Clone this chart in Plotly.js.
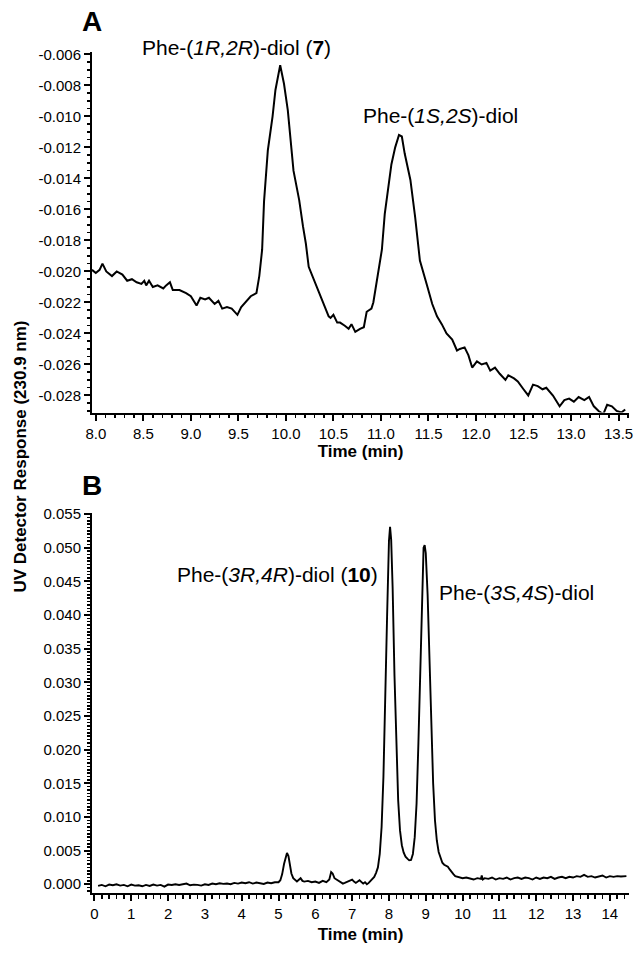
<!DOCTYPE html>
<html>
<head>
<meta charset="utf-8">
<script src="https://cdn.plot.ly/plotly-3.0.1.min.js"></script>
<style>html,body{margin:0;padding:0;background:#fff;}#chart{width:643px;height:958px;}</style>
</head>
<body>
<div id="chart"></div>
<script>
// ---------- Panel A data ----------
const timeA = [7.96, 8.00, 8.04, 8.07, 8.11, 8.17, 8.22, 8.28, 8.33, 8.38, 8.43, 8.48, 8.51, 8.53, 8.56, 8.60, 8.65, 8.71, 8.74, 8.78,
  8.81, 8.88, 8.95, 9.00, 9.06, 9.10, 9.15, 9.19, 9.25, 9.29, 9.33, 9.38, 9.43, 9.49, 9.53, 9.60, 9.63, 9.69, 9.72, 9.75,
  9.77, 9.81, 9.86, 9.89, 9.94, 9.98, 10.02, 10.08, 10.14, 10.18, 10.21, 10.24, 10.28, 10.33, 10.39, 10.45, 10.47, 10.50, 10.54, 10.57,
  10.62, 10.66, 10.69, 10.73, 10.78, 10.82, 10.85, 10.90, 10.92, 10.95, 10.99, 11.01, 11.04, 11.07, 11.11, 11.15, 11.19, 11.22, 11.25, 11.31,
  11.36, 11.41, 11.45, 11.48, 11.54, 11.59, 11.64, 11.69, 11.75, 11.80, 11.83, 11.88, 11.92, 11.96, 12.01, 12.06, 12.11, 12.15, 12.20, 12.25,
  12.31, 12.34, 12.40, 12.44, 12.50, 12.55, 12.60, 12.65, 12.70, 12.74, 12.81, 12.88, 12.93, 12.98, 13.03, 13.08, 13.14, 13.19, 13.24, 13.29,
  13.34, 13.38, 13.43, 13.48, 13.53, 13.57];
const respA = [-0.0199, -0.0201, -0.0199, -0.0195, -0.0200, -0.0203, -0.0200, -0.0202, -0.0206, -0.0205, -0.0207, -0.0208, -0.0206, -0.0209, -0.0206, -0.0210, -0.0209, -0.0211, -0.0209, -0.0207,
  -0.0212, -0.0212, -0.0214, -0.0216, -0.0222, -0.0217, -0.0218, -0.0217, -0.0221, -0.0219, -0.0224, -0.0223, -0.0224, -0.0228, -0.0223, -0.0218, -0.0216, -0.0214, -0.0203, -0.0186,
  -0.0155, -0.0122, -0.0100, -0.0083, -0.0067, -0.0079, -0.0096, -0.0135, -0.0154, -0.0171, -0.0182, -0.0197, -0.0203, -0.0210, -0.0219, -0.0229, -0.0230, -0.0228, -0.0233, -0.0233,
  -0.0235, -0.0237, -0.0234, -0.0239, -0.0237, -0.0236, -0.0226, -0.0224, -0.0220, -0.0208, -0.0193, -0.0186, -0.0163, -0.0150, -0.0131, -0.0120, -0.0112, -0.0113, -0.0124, -0.0141,
  -0.0165, -0.0193, -0.0201, -0.0208, -0.0221, -0.0229, -0.0234, -0.0240, -0.0244, -0.0251, -0.0250, -0.0249, -0.0254, -0.0262, -0.0258, -0.0260, -0.0259, -0.0264, -0.0262, -0.0266,
  -0.0270, -0.0267, -0.0269, -0.0271, -0.0276, -0.0280, -0.0273, -0.0274, -0.0276, -0.0275, -0.0280, -0.0287, -0.0283, -0.0282, -0.0284, -0.0281, -0.0283, -0.0281, -0.0287, -0.0290,
  -0.0292, -0.0286, -0.0287, -0.0290, -0.0291, -0.0289];

// ---------- Panel B data ----------
const timeB = [0.1, 0.2, 0.3, 0.4, 0.5, 0.6, 0.7, 0.8, 0.9, 1.0, 1.1, 1.2, 1.3, 1.4, 1.5, 1.6, 1.7, 1.8, 1.9, 2.0,
  2.1, 2.2, 2.3, 2.4, 2.5, 2.6, 2.7, 2.8, 2.9, 3.0, 3.1, 3.2, 3.3, 3.4, 3.5, 3.6, 3.7, 3.8, 3.9, 4.0,
  4.1, 4.2, 4.3, 4.4, 4.5, 4.6, 4.7, 4.8, 4.9, 5.0, 5.05, 5.1, 5.15, 5.2, 5.23, 5.27, 5.3, 5.35, 5.4, 5.45,
  5.5, 5.6, 5.65, 5.7, 5.8, 5.9, 6.0, 6.1, 6.2, 6.3, 6.38, 6.43, 6.47, 6.52, 6.6, 6.7, 6.75, 6.8, 6.9, 7.0,
  7.05, 7.1, 7.2, 7.3, 7.35, 7.4, 7.45, 7.5, 7.55, 7.6, 7.65, 7.7, 7.75, 7.8, 7.85, 7.9, 7.95, 8.0, 8.03, 8.06,
  8.1, 8.15, 8.2, 8.25, 8.3, 8.35, 8.4, 8.45, 8.5, 8.55, 8.6, 8.65, 8.7, 8.75, 8.8, 8.85, 8.9, 8.94, 8.97, 9.0,
  9.05, 9.1, 9.15, 9.2, 9.25, 9.3, 9.35, 9.4, 9.45, 9.5, 9.55, 9.6, 9.65, 9.7, 9.75, 9.8, 9.9, 10.0, 10.1, 10.2,
  10.3, 10.4, 10.5, 10.52, 10.55, 10.6, 10.7, 10.8, 10.9, 11.0, 11.1, 11.2, 11.3, 11.4, 11.5, 11.6, 11.7, 11.8, 11.9, 12.0,
  12.1, 12.2, 12.3, 12.4, 12.5, 12.6, 12.7, 12.8, 12.9, 13.0, 13.1, 13.2, 13.3, 13.4, 13.5, 13.6, 13.7, 13.8, 13.9, 14.0,
  14.1, 14.2, 14.3, 14.45];
const respB = [-0.00025, -0.0001, -0.0003, -0.00005, -0.00015, 0.0, -0.0002, -0.0001, -0.0003, -0.00005, -0.0002, -0.00015, -0.0003, -0.0001, -0.00025, -0.00005, -0.0002, -0.0001, -0.00035, -0.00005,
  -0.0001, 0.0, -0.0001, 0.00005, 0.0001, -0.00015, -0.00005, -0.0001, -0.0002, 0.0, -0.0001, 0.0001, 0.0, 0.00015, 0.00005, 0.0001, 0.0, 0.0002, 0.0001, 0.00025,
  0.00015, 0.0003, 0.0001, 0.00025, 0.0002, 0.00005, 0.00025, 0.00015, 0.0003, 0.0003, 0.0006, 0.0015, 0.0030, 0.0043, 0.00465, 0.0042, 0.0030, 0.0016, 0.0009, 0.0006,
  0.0004, 0.0009, 0.0005, 0.0004, 0.0005, 0.0003, 0.0004, 0.0002, 0.0005, 0.0003, 0.0007, 0.0018, 0.0016, 0.0009, 0.0006, 0.0003, 0.0001, 0.0002, 0.0005, 0.0007,
  0.0004, 0.0002, 0.0006, 0.0001, 0.0003, 0.0, 0.0002, 0.0005, 0.0008, 0.0011, 0.0017, 0.0025, 0.0045, 0.0085, 0.0160, 0.0260, 0.0400, 0.0510, 0.0531, 0.0512,
  0.0440, 0.0310, 0.0200, 0.0125, 0.0080, 0.0058, 0.0047, 0.0041, 0.0038, 0.00355, 0.0036, 0.0045, 0.0070, 0.0120, 0.0210, 0.0330, 0.0450, 0.0500, 0.0504, 0.0492,
  0.0430, 0.0330, 0.0230, 0.0150, 0.0095, 0.0065, 0.0048, 0.0038, 0.0032, 0.0029, 0.0028, 0.0026, 0.0022, 0.0018, 0.0015, 0.0012, 0.0010, 0.0009, 0.0010, 0.0008,
  0.0007, 0.0009, 0.0008, 0.0013, 0.0007, 0.0009, 0.0008, 0.0010, 0.0007, 0.0009, 0.0008, 0.0010, 0.0007, 0.0009, 0.0010, 0.0008, 0.0010, 0.0009, 0.0007, 0.0010,
  0.0008, 0.0010, 0.0009, 0.0011, 0.0008, 0.0010, 0.0011, 0.0009, 0.0011, 0.0010, 0.0012, 0.0011, 0.0014, 0.0011, 0.0012, 0.0010, 0.0011, 0.0013, 0.0010, 0.0012,
  0.0011, 0.0012, 0.00115, 0.0012];

// ---------- Tick labels ----------
const xTicksA = ['8.0','8.5','9.0','9.5','10.0','10.5','11.0','11.5','12.0','12.5','13.0','13.5'];
const yTicksA = ['-0.006','-0.008','-0.010','-0.012','-0.014','-0.016','-0.018','-0.020','-0.022','-0.024','-0.026','-0.028'];
const xTicksB = ['0','1','2','3','4','5','6','7','8','9','10','11','12','13','14'];
const yTicksB = ['0.055','0.050','0.045','0.040','0.035','0.030','0.025','0.020','0.015','0.010','0.005','0.000'];

const FONT = 'Liberation Sans, Arial, Helvetica, sans-serif';
const tickFont = {family: FONT, size: 15, color: '#000'};

function axisBase(labels, minorDtick, minorTick0) {
  return {
    showline: true, linewidth: 2, linecolor: '#000',
    ticks: 'outside', ticklen: 6, tickwidth: 2, tickcolor: '#000',
    tickmode: 'array', tickvals: labels.map(Number), ticktext: labels,
    tickfont: tickFont, showgrid: false, zeroline: false,
    minor: {dtick: minorDtick, tick0: minorTick0, ticks: 'outside', ticklen: 3.5, tickwidth: 1.5, tickcolor: '#000', showgrid: false}
  };
}

const traces = [
  {x: timeA, y: respA, xaxis: 'x', yaxis: 'y', mode: 'lines', line: {color: '#000', width: 2}, hoverinfo: 'skip'},
  {x: timeB, y: respB, xaxis: 'x2', yaxis: 'y2', mode: 'lines', line: {color: '#000', width: 1.9}, hoverinfo: 'skip'}
];

const titleFont = {family: FONT, size: 17, color: '#000'};
const annFont = {family: FONT, size: 21, color: '#000'};

const layout = {
  width: 643, height: 958,
  margin: {l: 92, r: 14, t: 52, b: 65},
  paper_bgcolor: '#fff', plot_bgcolor: '#fff',
  showlegend: false,
  xaxis: Object.assign(axisBase(xTicksA, 0.1, 8), {domain: [0, 1], anchor: 'y', range: [7.96, 13.61],
    title: {text: '<b>Time (min)</b>', font: titleFont, standoff: 4}}),
  yaxis: Object.assign(axisBase(yTicksA, 0.0005, 0), {domain: [0.5713, 1], anchor: 'x', range: [-0.0291, -0.00585]}),
  xaxis2: Object.assign(axisBase(xTicksB, 0.2, 0), {domain: [0, 1], anchor: 'y2', range: [-0.066, 14.52],
    title: {text: '<b>Time (min)</b>', font: titleFont, standoff: 7}}),
  yaxis2: Object.assign(axisBase(yTicksB, 0.0005, 0), {domain: [0, 0.4522], anchor: 'x2', range: [-0.0013, 0.0552]}),
  annotations: [
    {xref: 'paper', yref: 'paper', x: 0, y: 1.0357, text: '<b>A</b>', showarrow: false, font: {family: FONT, size: 28, color: '#000'}, xanchor: 'center', yanchor: 'middle'},
    {xref: 'paper', yref: 'paper', x: 0, y: 0.4840, text: '<b>B</b>', showarrow: false, font: {family: FONT, size: 28, color: '#000'}, xanchor: 'center', yanchor: 'middle'},
    {xref: 'paper', yref: 'paper', x: -0.134, y: 0.519, text: '<b>UV Detector Response (230.9 nm)</b>', textangle: -90, showarrow: false, font: titleFont, xanchor: 'center', yanchor: 'middle'},
    {xref: 'x', yref: 'paper', x: 9.477, y: 1.0048, text: 'Phe-(<i>1R,2R</i>)-diol (<b>7</b>)', showarrow: false, font: annFont, xanchor: 'center', yanchor: 'middle'},
    {xref: 'x', yref: 'y', x: 11.63, y: -0.00993, text: 'Phe-(<i>1S,2S</i>)-diol', showarrow: false, font: annFont, xanchor: 'center', yanchor: 'middle'},
    {xref: 'x2', yref: 'y2', x: 7.75, y: 0.0460, text: 'Phe-(<i>3R,4R</i>)-diol (<b>10</b>)', showarrow: false, font: annFont, xanchor: 'right', yanchor: 'middle'},
    {xref: 'x2', yref: 'y2', x: 9.30, y: 0.0434, text: 'Phe-(<i>3S,4S</i>)-diol', showarrow: false, font: annFont, xanchor: 'left', yanchor: 'middle'}
  ]
};

Plotly.newPlot('chart', traces, layout, {staticPlot: true, displayModeBar: false});
</script>
</body>
</html>
